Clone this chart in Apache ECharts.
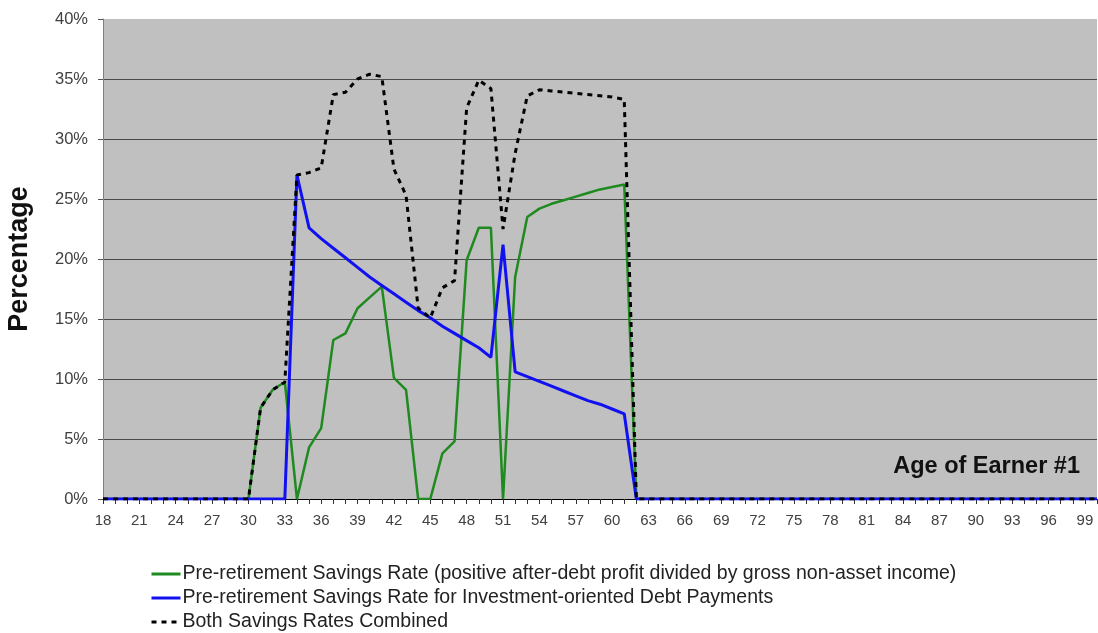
<!DOCTYPE html>
<html>
<head>
<meta charset="utf-8">
<script src="https://cdn.jsdelivr.net/npm/echarts@6/dist/echarts.min.js"></script>
<style>
  html, body { margin: 0; padding: 0; background: #fff; }
  #chart { width: 1098px; height: 633px; }
</style>
</head>
<body>
<div id="chart"></div>
<script>
// ages 18..100
const ages = []
for (let a = 18; a <= 100; a++) ages.push(String(a))

const zeros = (n) => new Array(n).fill(0)

// Pre-retirement savings rate (after-debt profit / gross non-asset income), ages 18..100
const greenRate = [].concat(
  zeros(12),                                   // 18-29
  [0, 7.6, 9.1, 9.75, 0, 4.3, 5.9, 13.25, 13.8, 15.9, 16.8, 17.7, 10.1, 9.1, 0, 0,   // 30-45
   3.8, 4.8, 19.9, 22.6, 22.6, 0, 18.5, 23.5, 24.2, 24.6, 24.9, 25.2, 25.5, 25.8, 26.0, 26.2], // 46-61
  zeros(39)                                    // 62-100
)

// Savings rate for investment-oriented debt payments
const blueRate = [].concat(
  zeros(16),                                   // 18-33
  [27.0, 22.6, 21.7, 20.9, 20.1, 19.3, 18.5, 17.8, 17.1, 16.4, 15.7, 15.1,   // 34-45
   14.4, 13.8, 13.2, 12.6, 11.8, 21.2, 10.6, 10.2, 9.8, 9.4, 9.0, 8.6, 8.2, 7.9, 7.5, 7.1], // 46-61
  zeros(39)
)

// Both rates combined
const combinedRate = [].concat(
  zeros(12),
  [0, 7.6, 9.1, 9.75, 27.0, 27.2, 27.6, 33.7, 33.9, 35.0, 35.4, 35.2, 27.5, 25.3, 15.9, 15.1, // 30-45
   17.6, 18.2, 32.6, 34.9, 34.2, 22.5, 28.8, 33.6, 34.1, 34.0, 33.9, 33.8, 33.7, 33.6, 33.5, 33.3], // 46-61
  zeros(39)
)

const seriesNames = [
  'Pre-retirement Savings Rate (positive after-debt profit divided by gross non-asset income)',
  'Pre-retirement Savings Rate for Investment-oriented Debt Payments',
  'Both Savings Rates Combined'
]

const font = 'Liberation Sans, Arial, sans-serif'

const chart = echarts.init(document.getElementById('chart'))

chart.setOption({
  animation: false,
  textStyle: { fontFamily: font },
  grid: {
    show: true,
    left: 103,
    right: 1,
    top: 19,
    bottom: 134,
    outerBoundsMode: 'none',
    containLabel: false,
    backgroundColor: '#c0c0c0',
    borderWidth: 0
  },
  xAxis: {
    type: 'category',
    data: ages,
    boundaryGap: false,
    axisLine: { show: true, lineStyle: { color: '#000', width: 1 } },
    axisTick: { show: true, interval: 0, length: 5, lineStyle: { color: '#333' } },
    axisLabel: { interval: 2, color: '#404040', fontSize: 15, margin: 14, fontFamily: font },
    splitLine: { show: false }
  },
  yAxis: {
    type: 'value',
    min: 0,
    max: 40,
    interval: 5,
    name: 'Percentage',
    nameLocation: 'middle',
    nameGap: 70,
    nameTextStyle: { fontSize: 27, fontWeight: 'bold', color: '#111', fontFamily: font },
    axisLine: { show: true, lineStyle: { color: '#808080', width: 1 } },
    axisTick: { show: true, length: 5, lineStyle: { color: '#555' } },
    axisLabel: { formatter: '{value}%', color: '#404040', fontSize: 16.5, margin: 15, fontFamily: font },
    splitLine: {
      show: true,
      lineStyle: {
        color: ['#4a4a4a', '#4a4a4a', '#4a4a4a', '#4a4a4a', '#4a4a4a', '#4a4a4a', '#4a4a4a', '#4a4a4a', '#c0c0c0'],
        width: 1
      }
    }
  },
  legend: {
    orient: 'vertical',
    left: 150,
    top: 564,
    padding: 0,
    itemWidth: 29,
    itemHeight: 14,
    itemGap: 4,
    itemStyle: { opacity: 0 },
    lineStyle: { width: 3 },
    textStyle: { fontSize: 19.5, color: '#222', fontFamily: font, padding: [0, 0, 0, -3] },
    data: seriesNames
  },
  graphic: [{
    type: 'text',
    right: 18,
    top: 455,
    style: { text: 'Age of Earner #1', font: 'bold 23.5px ' + font, fill: '#111' }
  }],
  series: [
    {
      name: seriesNames[0],
      type: 'line',
      data: greenRate,
      symbol: 'none',
      lineStyle: { color: '#1f8a1f', width: 2.5 },
      itemStyle: { color: '#1f8a1f' }
    },
    {
      name: seriesNames[1],
      type: 'line',
      data: blueRate,
      symbol: 'none',
      lineStyle: { color: '#1010f0', width: 3 },
      itemStyle: { color: '#1010f0' }
    },
    {
      name: seriesNames[2],
      type: 'line',
      data: combinedRate,
      symbol: 'none',
      lineStyle: { color: '#000', width: 3, type: [5, 5] },
      itemStyle: { color: '#000' }
    }
  ]
})
</script>
</body>
</html>
